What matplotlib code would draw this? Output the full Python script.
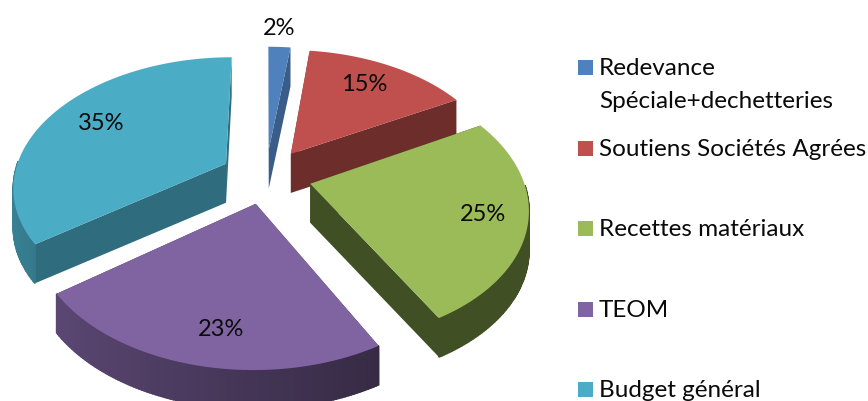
import numpy as np
import matplotlib
matplotlib.use("Agg")
import matplotlib.pyplot as plt
from matplotlib.patches import Polygon, Rectangle
from matplotlib.colors import to_rgb

plt.rcParams["font.family"] = ["Lato", "DejaVu Sans"]

LABELS = ["Redevance\nSpéciale+dechetteries", "Soutiens Sociétés Agrées",
          "Recettes matériaux", "TEOM", "Budget général"]
VALUES = [2, 15, 25, 23, 35]
COLORS = ["#4f81bd", "#c0504d", "#9bbb59", "#8064a2", "#4bacc6"]

# style only: label distance from slice apex, nudge in px, shade of the cut faces
LABEL_R = [1.22, 0.77, 0.80, 0.81, 0.75]
LABEL_DX = [-2, -5, 0, 12, 5]
CUT_SHADE = [0.72, 0.56, 0.42, 0.45, 0.63]
LEGEND_BASE = [75, 156, 236, 317, 397]

# pseudo 3D
CX, CY = 266, 176
RX, RY = 212, 128
PERSP = 0.167
DEPTH = 39
EXPLODE = 0.215


def project(x, y, z=0.0):
    s = 1 / (1 + PERSP * y)
    return CX + RX * x * s, CY - RY * y * s + DEPTH * z


def shade(col, f):
    return tuple(c * f for c in to_rgb(col))


fig = plt.figure(figsize=(8.68, 4.01), dpi=100)
ax = fig.add_axes([0, 0, 1, 1])
ax.set_xlim(0, 868)
ax.set_ylim(401, 0)
ax.axis("off")

total = sum(VALUES)
cum = np.cumsum([0] + VALUES) / total * 2 * np.pi
order = [0, 1, 4, 2, 3]  # back to front

for i in order:
    a0, a1 = cum[i], cum[i + 1]
    mid = (a0 + a1) / 2
    ox, oy = EXPLODE * np.sin(mid), EXPLODE * np.cos(mid)
    th = np.linspace(a0, a1, 120)
    xs = ox + np.sin(th)
    ys = oy + np.cos(th)
    col = COLORS[i]

    # cut faces
    for ang in (a0, a1):
        tip = (ox + np.sin(ang), oy + np.cos(ang))
        pts = [project(ox, oy, 0), project(tip[0], tip[1], 0),
               project(tip[0], tip[1], 1), project(ox, oy, 1)]
        ax.add_patch(Polygon(pts, fc=shade(col, CUT_SHADE[i]), ec="none", zorder=2))

    # outer wall, front half only, shaded strip by strip
    for k in range(len(th) - 1):
        if np.cos(th[k]) > 0:
            continue
        pts = [project(xs[k], ys[k], 0), project(xs[k + 1], ys[k + 1], 0),
               project(xs[k + 1], ys[k + 1], 1), project(xs[k], ys[k], 1)]
        f = max(0.42, 0.53 - 0.22 * np.sin(th[k]))
        ax.add_patch(Polygon(pts, fc=shade(col, f), ec=shade(col, f), lw=1.2, zorder=3))

    # top
    top = [project(ox, oy)] + [project(a, b) for a, b in zip(xs, ys)]
    ax.add_patch(Polygon(top, fc=col, ec="none", zorder=4))

    lx, ly = project(ox + LABEL_R[i] * np.sin(mid), oy + LABEL_R[i] * np.cos(mid))
    ax.text(lx + LABEL_DX[i], ly, f"{VALUES[i]}%", ha="center", va="center", fontsize=17,
            color="#0a0a0a", zorder=6)

for lab, col, y in zip(LABELS, COLORS, LEGEND_BASE):
    ax.add_patch(Rectangle((578, y - 15), 15, 15, fc=col, ec="none", zorder=5))
    for k, line in enumerate(lab.split("\n")):
        ax.text(599, y + 33 * k, line, ha="left", va="baseline", fontsize=17.5,
                color="#0a0a0a")

fig.savefig("out.png", dpi=100)
